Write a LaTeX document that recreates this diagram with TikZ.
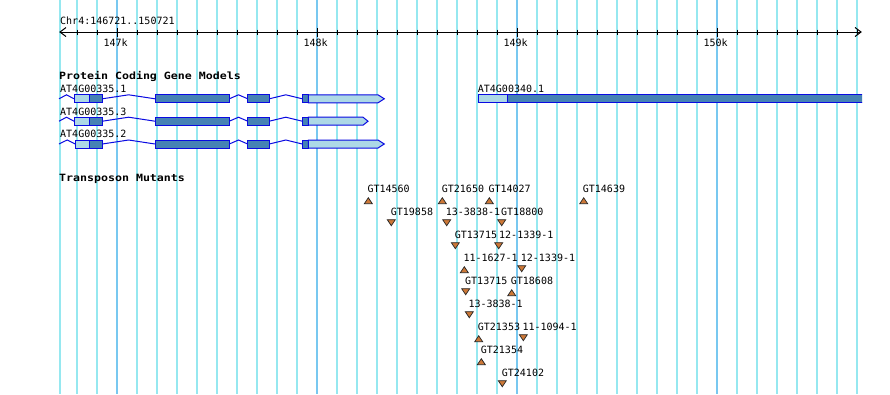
\documentclass[tikz,border=0pt]{standalone}
\usepackage{fontspec}
\setmonofont{DejaVu Sans Mono}
\newfontfamily\titlefont[FakeStretch=1.16]{DejaVu Sans Mono}
\definecolor{gridc}{RGB}{150,232,240}
\definecolor{gridm}{RGB}{120,200,240}
\definecolor{utrc}{RGB}{173,216,230}
\definecolor{cdsc}{RGB}{70,130,180}
\definecolor{edgec}{RGB}{10,10,225}
\definecolor{mutc}{RGB}{205,120,55}
\newcommand\intronhat[3]{\draw[intron] (#1,#3) -- ({(#1+#2)/2},#3-4) -- (#2,#3);}
\newcommand\generow[4]{%
 \intronhat{59}{#2}{#1}
 \draw[utrbox] (#2,#1-4) rectangle (89.3,#1+4);
 \draw[cdsbox] (89.3,#1-4) rectangle (102.3,#1+4);
 \intronhat{102.3}{155}{#1}
 \draw[cdsbox] (155,#1-4) rectangle (229.3,#1+4);
 \intronhat{229.3}{247.7}{#1}
 \draw[cdsbox] (247.7,#1-4) rectangle (269.3,#1+4);
 \intronhat{269.3}{302.3}{#1}
 \draw[cdsbox] (302.3,#1-4) rectangle (308.3,#1+4);
 \draw[utrbox] (308.3,#1-4) -- (#3,#1-4) -- (#4,#1) -- (#3,#1+4) -- (308.3,#1+4) -- cycle;
}
\newcommand\mutup[5]{%
 \node[lab] (#1) at (#3,#4) {#2};
 \pic at (#5,#4+11) {mutupshape};
}
\newcommand\mutdown[5]{%
 \node[lab] (#1) at (#3,#4) {#2};
 \pic at (#5,#4+4) {mutdownshape};
}
\begin{document}
\begin{tikzpicture}[x=1pt,y=-1pt,
  lab/.style={anchor=base west,inner sep=0pt,font=\fontsize{10}{12}\selectfont\ttfamily},
  titlelab/.style={anchor=base west,inner sep=0pt,font=\fontsize{10}{12}\selectfont\titlefont\bfseries},
  gridline/.style={gridc,line width=1.1pt},
  gridmajor/.style={gridm,line width=1.1pt},
  ruler/.style={black,line width=1pt},
  intron/.style={edgec,line width=1pt},
  utrbox/.style={fill=utrc,draw=edgec,line width=1pt},
  cdsbox/.style={fill=cdsc,draw=edgec,line width=1pt},
  mutshape/.style={fill=mutc,draw=black!85,line width=0.7pt,line join=miter},
  mutupshape/.pic={\draw[mutshape] (-4,0) -- (0,-6) -- (4,0) -- cycle;},
  mutdownshape/.pic={\draw[mutshape] (-4,0) -- (4,0) -- (0,6) -- cycle;}]
\useasboundingbox[fill=white] (0,0) rectangle (890,394);
% grid
\draw[gridline] (60,0) -- (60,394);
\foreach \x in {77,97,...,857} \draw[gridline] (\x,0) -- (\x,394);
\foreach \x in {117,317,517,717} \draw[gridmajor] (\x,0) -- (\x,394);
% ruler
\node[lab] (chr) at (60,24) {Chr4:146721..150721};
\coordinate (rl) at (60,32);
\coordinate (rr) at (861,32);
\draw[ruler] (rl) -- (rr);
\draw[ruler] (66,27.5) -- (rl) -- (66,36.5);
\draw[ruler] (855,27.5) -- (rr) -- (855,36.5);
\foreach \x in {77,97,...,857} \draw[ruler] (\x,29.5) -- (\x,35);
\foreach \x in {117,317,517,717} \draw[ruler] (\x,28) -- (\x,37);
\node[lab] (k147) at (103.3,46) {147k};
\node[lab] (k148) at (303.3,46) {148k};
\node[lab] (k149) at (503.3,46) {149k};
\node[lab] (k150) at (703.3,46) {150k};
% gene models
\node[titlelab] (pcgm) at (59,79) {Protein Coding Gene Models};
\node[lab] (g1) at (60,92) {AT4G00335.1};
\node[lab] (g3) at (60,115) {AT4G00335.3};
\node[lab] (g2) at (60,137.5) {AT4G00335.2};
\generow{98.8}{74}{378}{384.3}
\generow{121.2}{74}{363}{368}
\generow{144}{75.3}{378}{384.3}
\node[lab] (g4) at (477.7,92) {AT4G00340.1};
\begin{scope}
\clip (470,90) rectangle (862,108);
\draw[cdsbox] (507.3,94.8) rectangle (866,102.8);
\end{scope}
\draw[utrbox] (478.3,94.8) rectangle (507.3,102.8);
% mutants
\node[titlelab] (tm) at (59,181) {Transposon Mutants};
\mutup{m1}{GT14560}{367.3}{192.7}{368.3}
\mutup{m2}{GT21650}{441.7}{192.7}{442.3}
\mutup{m3}{GT14027}{488.3}{192.7}{489.3}
\mutup{m4}{GT14639}{582.7}{192.7}{583.7}
\mutdown{m5}{GT19858}{390.7}{215.7}{391.3}
\mutdown{m6}{13-3838-1}{445.7}{215.7}{446.7}
\mutdown{m7}{GT18800}{501}{215.7}{501.7}
\mutdown{m8}{GT13715}{454.7}{238.7}{455.3}
\mutdown{m9}{12-1339-1}{499}{238.7}{498.7}
\mutup{m10}{11-1627-1}{463.3}{261.7}{464.3}
\mutdown{m11}{12-1339-1}{520.7}{261.7}{521.7}
\mutdown{m12}{GT13715}{465}{284.7}{465.7}
\mutup{m13}{GT18608}{510.7}{284.7}{511.7}
\mutdown{m14}{13-3838-1}{468.3}{307.7}{469.3}
\mutup{m15}{GT21353}{477.7}{330.7}{478.7}
\mutdown{m16}{11-1094-1}{522.3}{330.7}{523.3}
\mutup{m17}{GT21354}{480.7}{353.7}{481.3}
\mutdown{m18}{GT24102}{501.7}{376.7}{502.3}
\end{tikzpicture}
\end{document}
